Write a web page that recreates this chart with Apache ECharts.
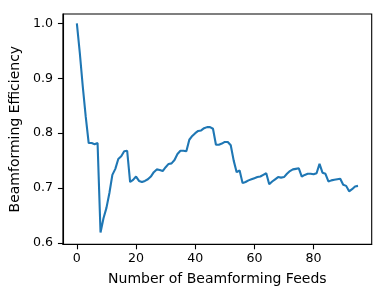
<!DOCTYPE html>
<html>
<head>
<meta charset="utf-8">
<script src="https://cdn.jsdelivr.net/npm/echarts@6/dist/echarts.min.js"></script>
<style>
html,body{margin:0;padding:0;background:#fff;}
#chart{width:384px;height:297px;}
</style>
</head>
<body>
<div id="chart"></div>
<script>
const feeds = [];
for (let i = 0; i <= 95; i++) feeds.push(i);
const efficiency = [
  1.000, 0.946, 0.885, 0.830, 0.782, 0.782, 0.780, 0.782, 0.619, 0.645,
  0.664, 0.691, 0.724, 0.735, 0.753, 0.758, 0.767, 0.768, 0.711, 0.715,
  0.721, 0.713, 0.711, 0.713, 0.716, 0.721, 0.729, 0.734, 0.733, 0.731,
  0.738, 0.744, 0.745, 0.751, 0.762, 0.768, 0.768, 0.767, 0.788, 0.795,
  0.800, 0.804, 0.805, 0.809, 0.811, 0.811, 0.808, 0.779, 0.779, 0.781,
  0.784, 0.784, 0.778, 0.750, 0.729, 0.732, 0.709, 0.711, 0.714, 0.716,
  0.718, 0.720, 0.721, 0.724, 0.727, 0.707, 0.712, 0.716, 0.720, 0.719,
  0.720, 0.726, 0.731, 0.734, 0.735, 0.736, 0.721, 0.724, 0.726, 0.726,
  0.725, 0.727, 0.744, 0.728, 0.726, 0.712, 0.714, 0.715, 0.716, 0.717,
  0.706, 0.704, 0.694, 0.698, 0.703, 0.704
];
const xTicks = [0, 20, 40, 60, 80];
const yTicks = [0.6, 0.7, 0.8, 0.9, 1.0];
const xLabel = 'Number of Beamforming Feeds';
const yLabel = 'Beamforming Efficiency';

const points = feeds.map((f, i) => [f, efficiency[i]]);
const font = 'DejaVu Sans';

const chart = echarts.init(document.getElementById('chart'), null, {renderer: 'canvas'});
chart.setOption({
  animation: false,
  backgroundColor: '#fff',
  grid: {
    left: 61.3, top: 14, right: 12.3, bottom: 52.7,
    show: true, borderColor: '#000', borderWidth: 1.1, backgroundColor: 'transparent'
  },
  xAxis: {
    type: 'value',
    min: -4.706, max: 99.63,
    name: xLabel,
    nameLocation: 'middle',
    nameGap: 28,
    nameTextStyle: {fontFamily: font, fontSize: 14, color: '#000'},
    axisLine: {show: true, onZero: false, lineStyle: {color: '#000', width: 1.1}},
    axisTick: {show: true, inside: false, length: 5, customValues: xTicks, lineStyle: {color: '#000', width: 1.1}},
    axisLabel: {customValues: xTicks, margin: 8, fontFamily: font, fontSize: 12.6, color: '#000'},
    splitLine: {show: false}
  },
  yAxis: {
    type: 'value',
    min: 0.5976, max: 1.017,
    name: yLabel,
    nameLocation: 'middle',
    nameGap: 38,
    nameRotate: 90,
    nameTextStyle: {fontFamily: font, fontSize: 14, color: '#000'},
    axisLine: {show: true, onZero: false, lineStyle: {color: '#000', width: 1.1}},
    axisTick: {show: true, inside: false, length: 5, customValues: yTicks, lineStyle: {color: '#000', width: 1.1}},
    axisLabel: {customValues: yTicks, margin: 10, fontFamily: font, fontSize: 12.6, color: '#000',
      formatter: v => v.toFixed(1)},
    splitLine: {show: false}
  },
  series: [{
    type: 'line',
    data: points,
    showSymbol: false,
    symbol: 'none',
    lineStyle: {color: '#1f77b4', width: 2.1},
    z: 3
  }]
});
</script>
</body>
</html>
